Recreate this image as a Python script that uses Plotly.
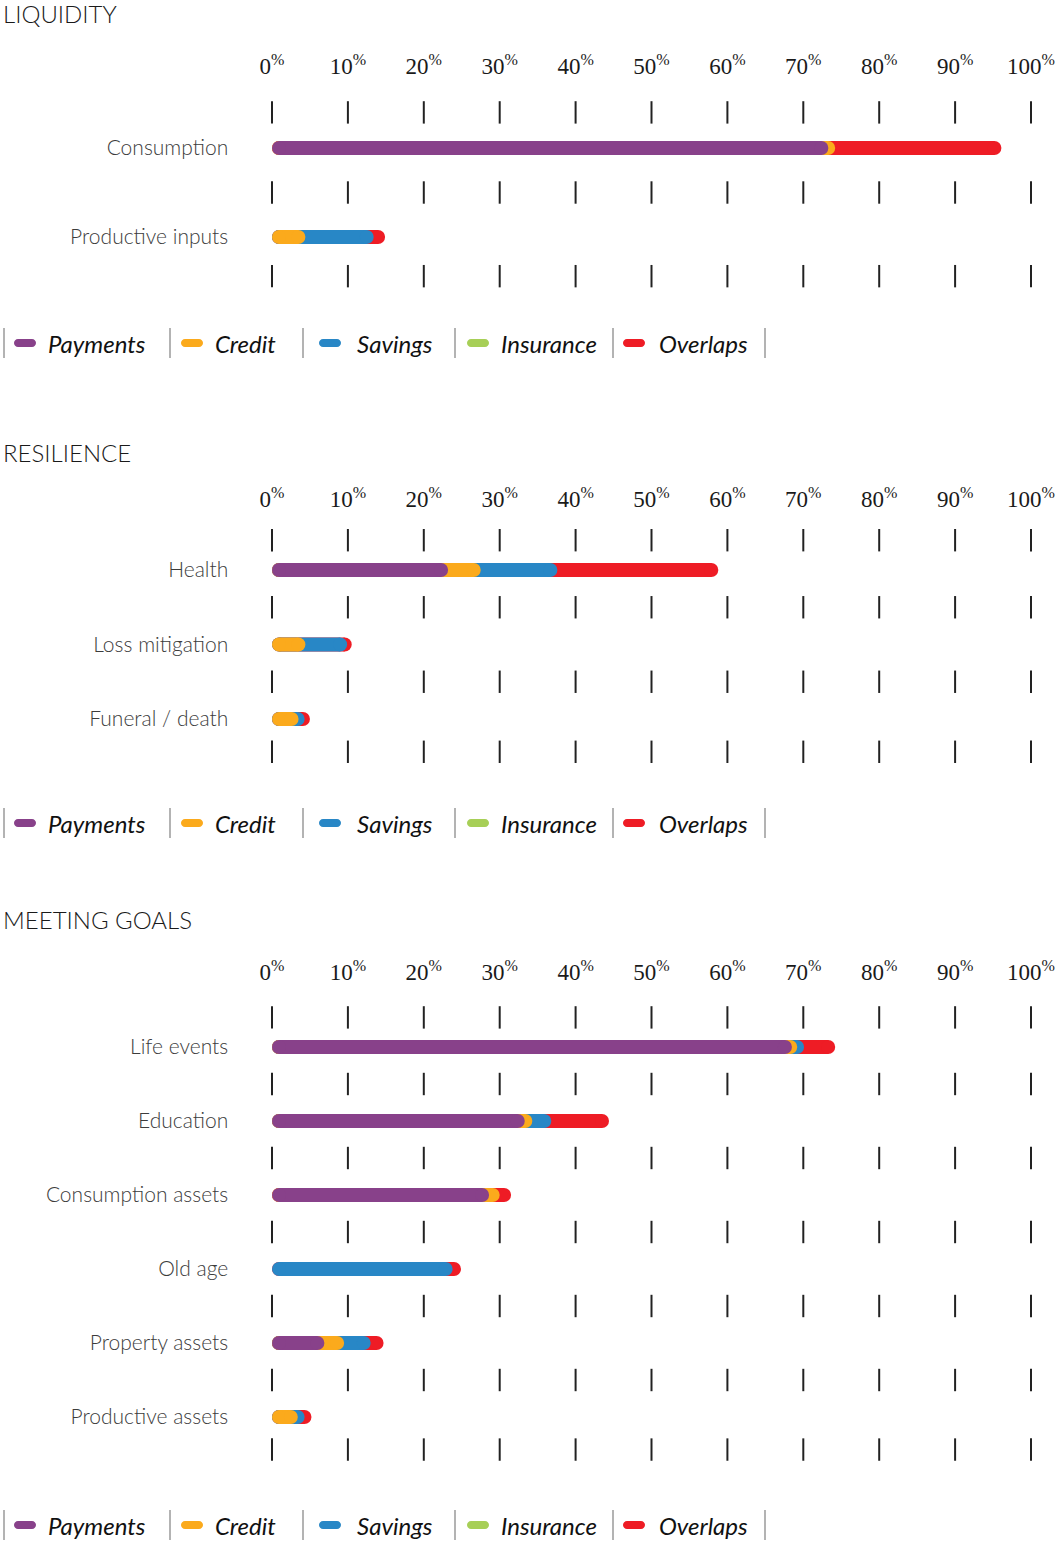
import plotly.graph_objects as go

# ---------------- data ----------------
series_names = ["Payments", "Credit", "Savings", "Insurance", "Overlaps"]
series_colors = ["#88418A", "#FBAA1C", "#2887C6", "#A7CF57", "#EE1C25"]

tick_values = [0, 10, 20, 30, 40, 50, 60, 70, 80, 90, 100]
tick_labels = ["0", "10", "20", "30", "40", "50", "60", "70", "80", "90", "100"]

liquidity_categories = ["Consumption", "Productive inputs"]
liquidity_payments = [73.3, 0.0]
liquidity_credit = [0.9, 4.4]
liquidity_savings = [0.0, 9.0]
liquidity_insurance = [0.0, 0.0]
liquidity_overlaps = [21.9, 1.5]

resilience_categories = ["Health", "Loss mitigation", "Funeral / death"]
resilience_payments = [23.2, 0.0, 0.0]
resilience_credit = [4.3, 4.4, 3.5]
resilience_savings = [10.1, 5.5, 0.8]
resilience_insurance = [0.0, 0.0, 0.0]
resilience_overlaps = [21.2, 0.6, 0.7]

goals_categories = ["Life events", "Education", "Consumption assets",
                    "Old age", "Property assets", "Productive assets"]
goals_payments = [68.5, 33.3, 28.6, 0.0, 6.9, 0.0]
goals_credit = [0.7, 1.0, 1.4, 0.0, 2.6, 3.4]
goals_savings = [0.9, 2.5, 0.0, 23.8, 3.5, 0.9]
goals_insurance = [0.0, 0.0, 0.0, 0.0, 0.0, 0.0]
goals_overlaps = [4.1, 7.6, 1.5, 1.1, 1.7, 0.9]

# ---------------- layout constants ----------------
W, H = 1063, 1542
U = 7.59            # px per percent
X0_PX = 272         # pixel of 0%
XMIN, XMAX = -3, 104
BAR_PX = 14
SANS = "Lato"

def fx(p):
    return p / W

def fy(p):
    return 1 - p / H

sections = [
    dict(title="LIQUIDITY", cats=liquidity_categories,
         vals=[liquidity_payments, liquidity_credit, liquidity_savings,
               liquidity_insurance, liquidity_overlaps],
         c0=148, s=89, top=86, bot=300, title_y=14, legend_y=343),
    dict(title="RESILIENCE", cats=resilience_categories,
         vals=[resilience_payments, resilience_credit, resilience_savings,
               resilience_insurance, resilience_overlaps],
         c0=570, s=74.5, top=519, bot=772, title_y=452, legend_y=823),
    dict(title="MEETING GOALS", cats=goals_categories,
         vals=[goals_payments, goals_credit, goals_savings,
               goals_insurance, goals_overlaps],
         c0=1047, s=74, top=992, bot=1472, title_y=919, legend_y=1525),
]

fig = go.Figure()
r_data = (BAR_PX / 2) / U
annotations = []
shapes = []
layout_axes = {}

for si, sec in enumerate(sections):
    suffix = "" if si == 0 else str(si + 1)
    xref = "x" + suffix
    yref = "y" + suffix
    n = len(sec["cats"])

    # tick-mark rows
    rows = [-0.4] + [i + 0.5 for i in range(n - 1)] + [n - 1 + 0.44]
    tx, ty = [], []
    for r in rows:
        for t in tick_values:
            tx.append(t)
            ty.append(r)
    fig.add_trace(go.Scatter(
        x=tx, y=ty, mode="markers", xaxis=xref, yaxis=yref,
        marker=dict(symbol="line-ns", size=16,
                    line=dict(width=2, color="#222222")),
        hoverinfo="skip", showlegend=False, cliponaxis=False))

    # cumulative ends
    ends = []
    for i in range(n):
        acc = 0.0
        row = []
        for k in range(len(series_names)):
            v = sec["vals"][k][i]
            acc += v
            row.append((acc, v))
        ends.append(row)

    # draw from last series (bottom) to first (top)
    for k in reversed(range(len(series_names))):
        xs, ys = [], []
        for i in range(n):
            end, v = ends[i][k]
            if v <= 0:
                continue
            xs += [r_data, end - r_data, None]
            ys += [i, i, None]
        if not xs:
            continue
        fig.add_trace(go.Scatter(
            x=xs, y=ys, mode="lines+markers", xaxis=xref, yaxis=yref,
            line=dict(color=series_colors[k], width=BAR_PX),
            marker=dict(color=series_colors[k], size=BAR_PX, line=dict(width=0)),
            name=series_names[k], hoverinfo="skip", showlegend=False,
            cliponaxis=False))

    # axes
    layout_axes["xaxis" + suffix] = dict(
        domain=[fx(X0_PX + XMIN * U), fx(X0_PX + XMAX * U)],
        range=[XMIN, XMAX], anchor=yref, side="top",
        tickvals=tick_values,
        ticktext=[t + "<sup>%</sup>" for t in tick_labels],
        tickfont=dict(family="Liberation Serif", size=23, color="#1a1a1a"),
        ticks="", showgrid=False, zeroline=False, showline=False,
        ticklabelstandoff=6, fixedrange=True)
    layout_axes["yaxis" + suffix] = dict(
        domain=[fy(sec["bot"]), fy(sec["top"])],
        range=[(sec["bot"] - sec["c0"]) / sec["s"], (sec["top"] - sec["c0"]) / sec["s"]],
        anchor=xref, tickvals=list(range(n)), ticktext=sec["cats"],
        tickfont=dict(family=SANS, size=21, color="#3c3c3c", weight=300),
        ticks="", showgrid=False, zeroline=False, showline=False,
        ticklabelstandoff=20, fixedrange=True)

    # section title
    annotations.append(dict(
        text=sec["title"], x=fx(1), y=fy(sec["title_y"]), xref="paper", yref="paper",
        xanchor="left", yanchor="middle", showarrow=False,
        font=dict(family=SANS, size=24, color="#1a1a1a", weight=300)))

    # custom legend
    ly = sec["legend_y"]
    for sx in [4, 170, 303, 455, 613, 765]:
        shapes.append(dict(type="line", xref="paper", yref="paper",
                           x0=fx(sx), x1=fx(sx), y0=fy(ly - 15), y1=fy(ly + 15),
                           line=dict(color="#9a9a9a", width=1.5)))
    pill_x = [14, 181, 319, 467, 623]
    text_x = [46, 213, 355, 499, 657]
    for k, name in enumerate(series_names):
        x0, x1 = pill_x[k], pill_x[k] + 22
        h = 8
        r = h / 2
        kk = 0.5523 * r
        top, bot, yc = ly - h / 2, ly + h / 2, ly
        pts = [
            ("M", [(x0 + r, top)]),
            ("L", [(x1 - r, top)]),
            ("C", [(x1 - r + kk, top), (x1, yc - kk), (x1, yc)]),
            ("C", [(x1, yc + kk), (x1 - r + kk, bot), (x1 - r, bot)]),
            ("L", [(x0 + r, bot)]),
            ("C", [(x0 + r - kk, bot), (x0, yc + kk), (x0, yc)]),
            ("C", [(x0, yc - kk), (x0 + r - kk, top), (x0 + r, top)]),
        ]
        path = ""
        for cmd, plist in pts:
            path += cmd + " ".join("%.6f,%.6f" % (fx(a), fy(b)) for a, b in plist) + " "
        path += "Z"
        shapes.append(dict(type="path", xref="paper", yref="paper", path=path,
                           fillcolor=series_colors[k], line=dict(width=0)))
        annotations.append(dict(
            text=name, x=fx(text_x[k]), y=fy(ly), xref="paper", yref="paper",
            xanchor="left", yanchor="middle", showarrow=False,
            font=dict(family=SANS, size=24, color="#111111", style="italic")))

fig.update_layout(
    width=W, height=H,
    margin=dict(l=0, r=0, t=0, b=0),
    paper_bgcolor="white", plot_bgcolor="white",
    showlegend=False,
    annotations=annotations, shapes=shapes,
    **layout_axes)

fig.write_html("out.html",
               config={"displayModeBar": False},
               post_script="document.body.style.margin='0';document.body.style.overflow='hidden';")
